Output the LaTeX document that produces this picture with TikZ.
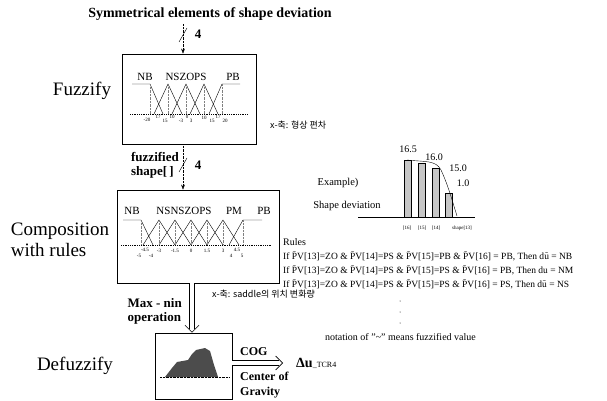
\documentclass[tikz,border=0pt]{standalone}
\usepackage{fontspec}
\setmainfont{Liberation Serif}
\newfontfamily\krfont{Noto Sans CJK KR}
\usetikzlibrary{arrows.meta}

\newcommand{\tpv}{$\tilde{\mathrm{P}}$V}

\tikzset{
    box/.style={draw, thick, inner sep=0},
    mf/.style={thin},
    dv/.style={densely dotted, gray},
    sig/.style={densely dotted, -{Stealth[length=5pt]}},
    dbl/.style={draw=black, double=white, double distance=4pt, line width=0.6pt, shorten >=4pt},
    dblhead/.style={white, -{Straight Barb[black, length=7pt, width=14pt, line width=0.6pt]}},
    lbl/.style={font=\fontsize{11}{11}\selectfont, inner sep=0},
    tick/.style={font=\fontsize{5}{5}\selectfont, inner sep=0},
    stage/.style={font=\fontsize{19}{21}\selectfont, inner sep=0},
    bold/.style={font=\fontsize{13}{14}\selectfont\bfseries, inner sep=0, align=left},
    kr/.style={font=\fontsize{9}{9}\krfont, inner sep=0, anchor=west},
    small/.style={font=\fontsize{10}{11.5}\selectfont, inner sep=0},
    rule/.style={font=\fontsize{9.5}{10}\selectfont, inner sep=0, anchor=west},
    bar/.style={draw, fill=gray!45}
}

\begin{document}
\begin{tikzpicture}[x=1pt, y=-1pt]
    \useasboundingbox (0,0) rectangle (607,401);

    % input
    \node[font=\fontsize{14}{14}\selectfont\bfseries] (title) at (210,14) {Symmetrical elements of shape deviation};
    \coordinate (ax) at (183,0);
    \coordinate (bx) at (192,0);

    % Fuzzify
    \node[box, minimum width=134pt, minimum height=90pt] (fuzz) at (189,99) {};
    \node[stage] (fuzzlbl) at (82,91) {Fuzzify};
    \draw[mf] (132,84) -- (150,84) -- (163,114);
    \foreach \p in {168,186,204} {
        \draw[mf] (\p-14,114) -- (\p,84) -- (\p+14,114);
    }
    \draw[mf] (209,114) -- (222,84) -- (240,84);
    \foreach \p in {150,168,186,204,222} {
        \draw[dv] (\p,84) -- (\p,114);
    }
    \draw[densely dotted, thick] (130,114) -- (248,114);
    \node[lbl] (fnb) at (145,77) {NB};
    \node[lbl] (fmid) at (186,77) {NSZOPS};
    \node[lbl] (fpb) at (233,77) {PB};
    \node[tick] at (147,120) {-20};
    \node[tick] at (158,117) {17};
    \node[tick] at (165,121) {15};
    \node[tick] at (172,117) {10};
    \node[tick] at (181,121) {-3};
    \node[tick] at (187,117) {0};
    \node[tick] at (191,121) {3};
    \node[tick] at (204,118) {10};
    \node[tick] at (212,121) {15};
    \node[tick] at (218,117) {17};
    \node[tick] at (225,121) {20};
    \node[kr] (krone) at (270,125) {x-축: 형상 편차};

    \draw[sig] (title.south -| ax) -- (fuzz.north -| ax);
    \draw (179,42) -- (187,28);
    \node[bold] (n1) at (198,34) {4};

    % Composition with rules
    \node[box, minimum width=162pt, minimum height=93pt] (comp) at (198,236.5) {};
    \node[stage, align=left] (complbl) at (60,240) {Composition\\with rules};
    \draw[mf] (123,220) -- (141,220) -- (153,245);
    \foreach \p in {159,175,191,207,223} {
        \draw[mf] (\p-16,245) -- (\p,220) -- (\p+16,245);
    }
    \draw[mf] (229,245) -- (243,220) -- (262,220);
    \foreach \p in {141,159,175,191,207,223,243} {
        \draw[dv] (\p,220) -- (\p,245);
    }
    \draw[densely dotted, thick] (121,245) -- (272,245);
    \node[lbl] (cnb) at (132,211) {NB};
    \node[lbl] (cmid) at (184,211) {NSNSZOPS};
    \node[lbl] (cpm) at (234,211) {PM};
    \node[lbl] (cpb) at (264,211) {PB};
    \node[tick] at (139,256) {-5};
    \node[tick] at (145,250) {-4.5};
    \node[tick] at (151,256) {-4};
    \node[tick] at (159,251) {-3};
    \node[tick] at (175,251) {-1.5};
    \node[tick] at (191,251) {0};
    \node[tick] at (207,251) {1.5};
    \node[tick] at (223,251) {3};
    \node[tick] at (231,256) {4};
    \node[tick] at (237,250) {4.5};
    \node[tick] at (242,256) {5};
    \node[kr] (krtwo) at (212,294) {x-축: saddle의 위치 변화량};

    \draw[sig] (fuzz.south -| ax) -- (comp.north -| ax);
    \draw (179,172) -- (187,158);
    \node[bold] (n2) at (198,165) {4};
    \node[bold, anchor=east, align=left] (fzd) at (179,165) {fuzzified\\shape[\,]};

    % Example
    \node[small, font=\fontsize{10.5}{11}\selectfont] (ex) at (338,183) {Example)};
    \node[small, font=\fontsize{10.5}{11}\selectfont] (sd) at (347,206) {Shape deviation};
    \draw (358,217) -- (475,217);
    \draw[bar] (404,160) rectangle (411,217);
    \draw[bar] (418,163) rectangle (425,217);
    \draw[bar] (432,168) rectangle (439,217);
    \draw[bar] (445,193) rectangle (452,217);
    \draw (407,160) .. controls (425,162) and (436,160) .. (441,170)
        .. controls (448,185) and (452,200) .. (457,216);
    \node[small] (v1) at (408,149) {16.5};
    \node[small] (v2) at (434,157) {16.0};
    \node[small] (v3) at (458,168) {15.0};
    \node[small] (v4) at (463,183) {1.0};
    \node[tick] at (407,228) {[16]};
    \node[tick] at (422,228) {[15]};
    \node[tick] at (436,228) {[14]};
    \node[tick] at (462,228) {shape[13]};

    % Rules
    \node[small, anchor=west] (rules) at (283,242) {Rules};
    \node[rule] (if1) at (283,256) {If \tpv[13]=ZO \& \tpv[14]=PS \& \tpv[15]=PB \& \tpv[16] = PB, Then d$\tilde{\mathrm{u}}$ = NB};
    \node[rule] (if2) at (283,270) {If \tpv[13]=ZO \& \tpv[14]=PS \& \tpv[15]=PS \& \tpv[16] = PB, Then du = NM};
    \node[rule] (if3) at (283,284) {If \tpv[13]=ZO \& PV[14]=PS \& \tpv[15]=PS \& \tpv[16] = PS, Then d$\tilde{\mathrm{u}}$ = NS};
    \foreach \y in {301,312,323} {
        \fill (400,\y) circle (0.5pt);
    }
    \node[small, anchor=west] (note) at (325,337) {notation of "\textasciitilde" means fuzzified value};

    % Defuzzify
    \node[box, minimum width=77pt, minimum height=66pt] (defz) at (193.5,366) {};
    \node[stage] (defzlbl) at (75,366) {Defuzzify};
    \fill[black!70] (165,377) -- (172,368) -- (177,362) -- (188,360) -- (192,354) -- (196,350)
        -- (205,348) -- (210,351) -- (214,365) -- (218,377) -- cycle;
    \draw[densely dotted] (160,377) -- (229,377);
    \draw[dbl] (comp.south -| bx) -- (defz.north -| bx);
    \draw[dblhead] (comp.south -| bx) -- (defz.north -| bx);
    \node[bold, anchor=east, align=left] (mm) at (182,311) {Max - nin\\operation};

    \coordinate (du) at (283,363);
    \draw[dbl] (defz.east |- du) -- (du);
    \draw[dblhead] (defz.east |- du) -- (du);
    \node[bold, anchor=west, font=\fontsize{12}{14}\selectfont\bfseries] (cog) at (240,352) {COG};
    \node[bold, anchor=north west, font=\fontsize{12}{15}\selectfont\bfseries] (cg) at (240,372) {Center of\\Gravity};
    \node[anchor=west, inner sep=0] (dulbl) at (296,363) {\fontsize{14}{14}\selectfont\textbf{Δu}\fontsize{8}{8}\selectfont\_TCR4};
\end{tikzpicture}
\end{document}
